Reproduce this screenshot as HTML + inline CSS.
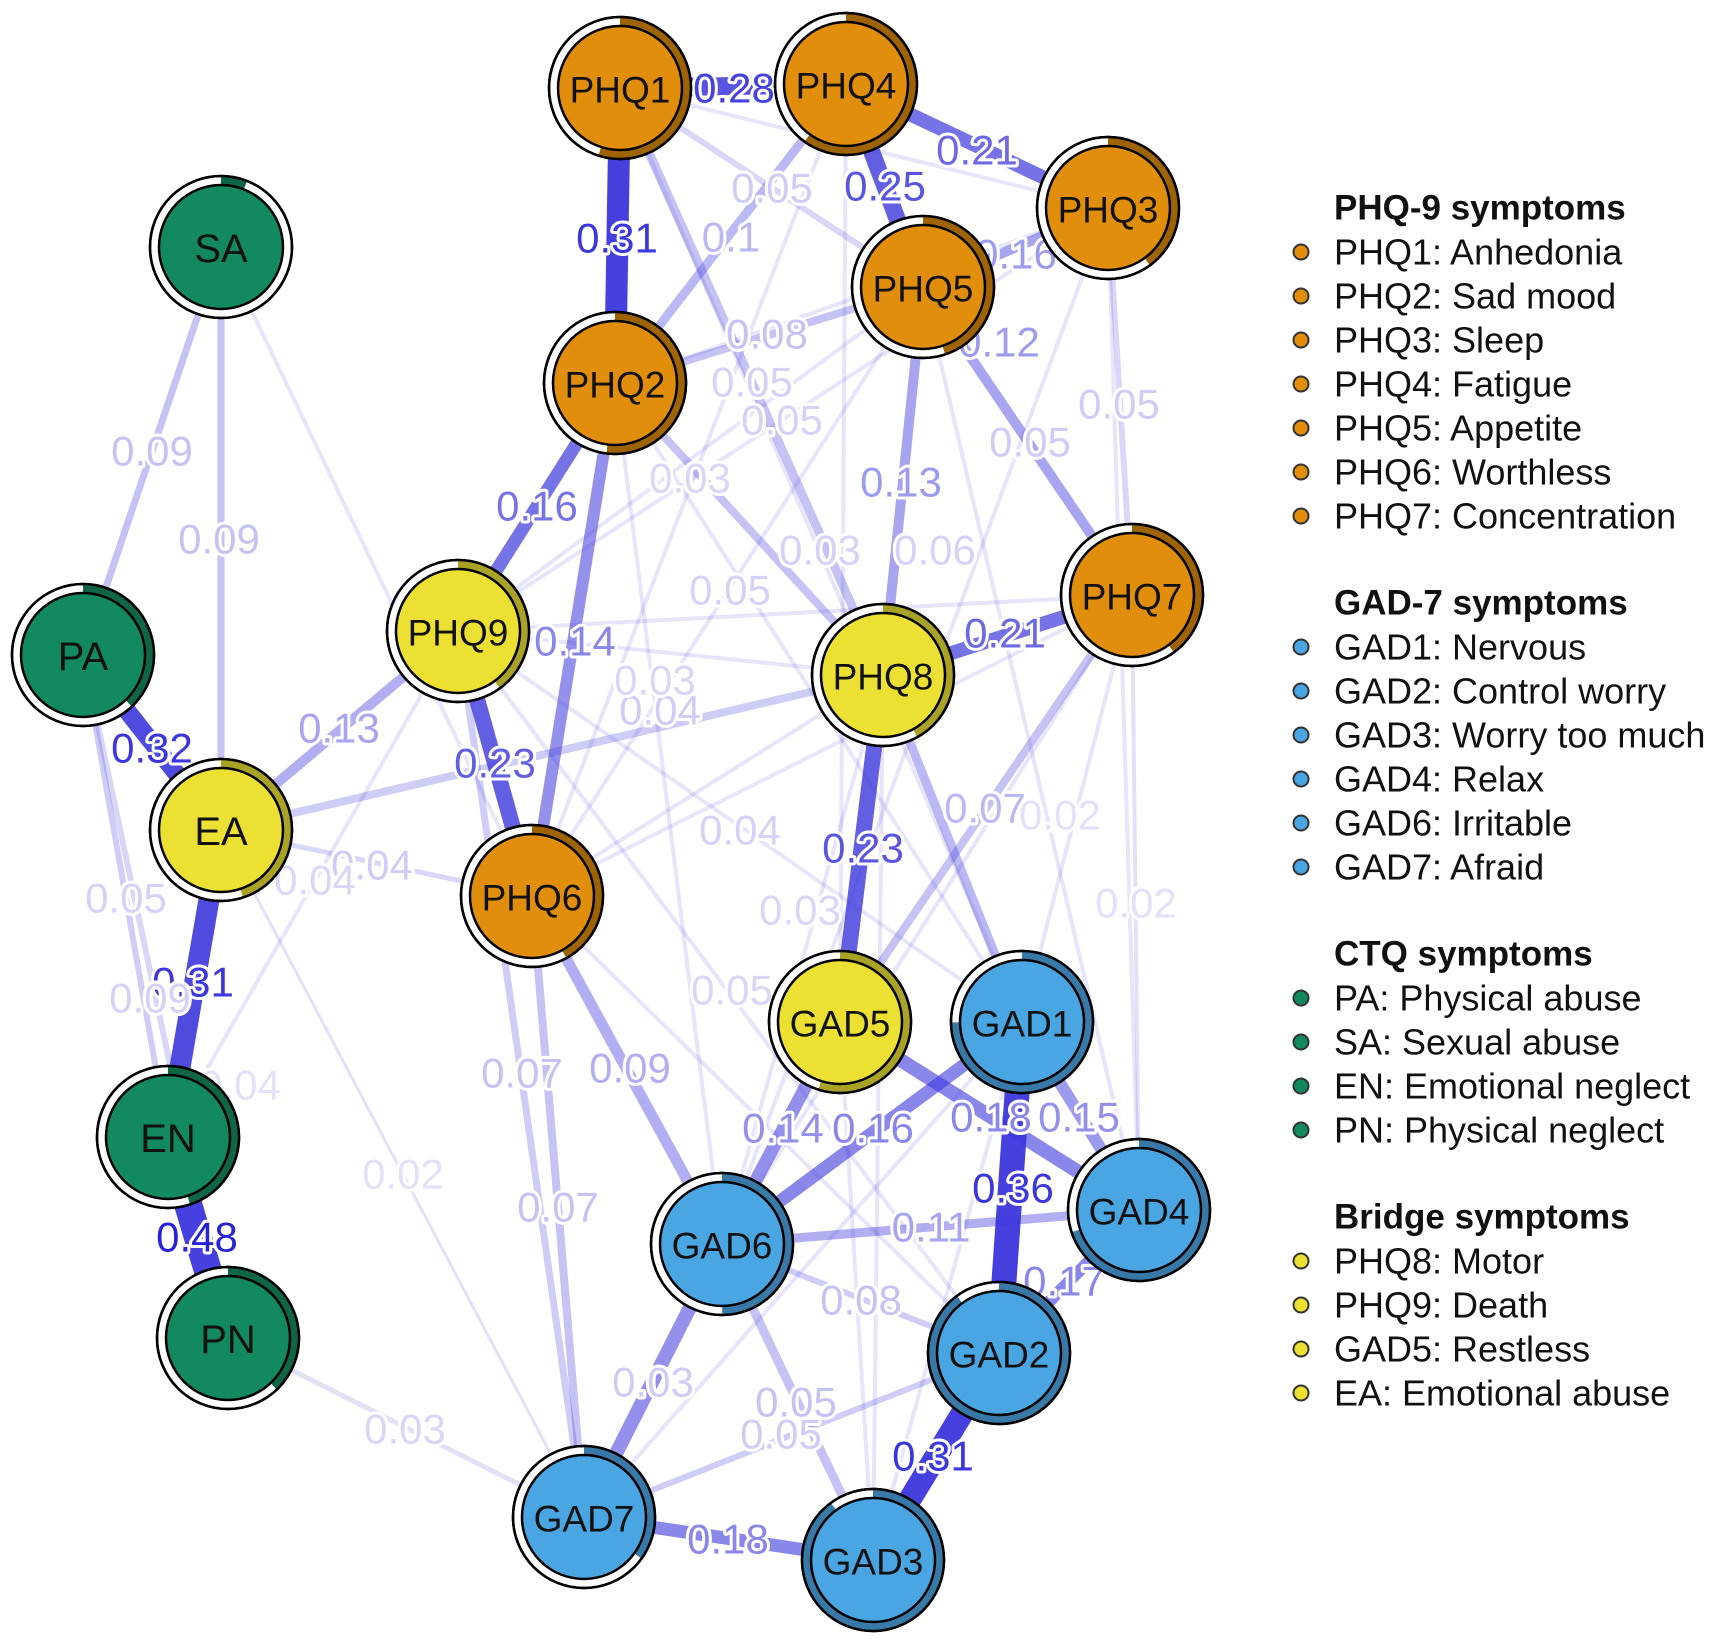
<!DOCTYPE html>
<html><head><meta charset="utf-8"><style>
html,body{margin:0;padding:0;background:#fff}
svg{display:block}
.lab{font-family:"Liberation Sans",sans-serif;font-size:42px;text-anchor:middle;dominant-baseline:central;stroke:#fff;stroke-width:6px;paint-order:stroke;stroke-linejoin:round}
.nl{font-family:"Liberation Sans",sans-serif;font-size:37px;text-anchor:middle;dominant-baseline:central;fill:#111}
.lg{font-family:"Liberation Sans",sans-serif;font-size:36px;fill:#111;dominant-baseline:central}
.lt{font-weight:bold;font-size:35px}
</style></head><body>
<svg width="1717" height="1644" viewBox="0 0 1717 1644" xmlns="http://www.w3.org/2000/svg">
<g stroke="rgb(60,55,220)" stroke-linecap="butt" fill="none">
<g stroke-opacity="0.13" stroke-width="4">
<line x1="620" y1="88" x2="1022" y2="1022"/>
<line x1="846" y1="84" x2="840" y2="1022"/>
<line x1="846" y1="84" x2="532" y2="896"/>
<line x1="1108" y1="208" x2="722" y2="1244"/>
<line x1="1108" y1="208" x2="458" y2="631"/>
<line x1="923" y1="287" x2="458" y2="631"/>
<line x1="923" y1="287" x2="532" y2="896"/>
<line x1="923" y1="287" x2="1139" y2="1210"/>
<line x1="615" y1="383" x2="1022" y2="1022"/>
<line x1="615" y1="383" x2="722" y2="1244"/>
<line x1="458" y1="631" x2="1022" y2="1022"/>
<line x1="458" y1="631" x2="883" y2="675"/>
<line x1="458" y1="631" x2="999" y2="1353"/>
<line x1="532" y1="896" x2="1132" y2="595"/>
<line x1="532" y1="896" x2="883" y2="675"/>
<line x1="532" y1="896" x2="999" y2="1353"/>
<line x1="1132" y1="595" x2="1022" y2="1022"/>
<line x1="1132" y1="595" x2="722" y2="1244"/>
<line x1="883" y1="675" x2="722" y2="1244"/>
<line x1="883" y1="675" x2="873" y2="1560"/>
<line x1="1108" y1="208" x2="1139" y2="1210"/>
<line x1="168" y1="1137" x2="458" y2="631"/>
<line x1="221" y1="247" x2="532" y2="896"/>
<line x1="584" y1="1517" x2="1022" y2="1022"/>
<line x1="873" y1="1560" x2="1022" y2="1022"/>
<line x1="873" y1="1560" x2="840" y2="1022"/>
<line x1="615" y1="383" x2="1108" y2="208"/>
<line x1="620" y1="88" x2="1108" y2="208"/>
<line x1="458" y1="631" x2="1132" y2="595"/>
</g>
<line x1="620" y1="88" x2="615" y2="383" stroke-width="22" stroke-opacity="0.95"/>
<line x1="620" y1="88" x2="846" y2="84" stroke-width="18" stroke-opacity="0.85"/>
<line x1="846" y1="84" x2="1108" y2="208" stroke-width="14" stroke-opacity="0.7"/>
<line x1="846" y1="84" x2="923" y2="287" stroke-width="17" stroke-opacity="0.8"/>
<line x1="923" y1="287" x2="1108" y2="208" stroke-width="10" stroke-opacity="0.45"/>
<line x1="923" y1="287" x2="1132" y2="595" stroke-width="10" stroke-opacity="0.45"/>
<line x1="1108" y1="208" x2="1132" y2="595" stroke-width="6" stroke-opacity="0.2"/>
<line x1="923" y1="287" x2="883" y2="675" stroke-width="10" stroke-opacity="0.45"/>
<line x1="620" y1="88" x2="883" y2="675" stroke-width="9" stroke-opacity="0.3"/>
<line x1="615" y1="383" x2="846" y2="84" stroke-width="9" stroke-opacity="0.35"/>
<line x1="620" y1="88" x2="923" y2="287" stroke-width="6" stroke-opacity="0.2"/>
<line x1="615" y1="383" x2="923" y2="287" stroke-width="8" stroke-opacity="0.3"/>
<line x1="615" y1="383" x2="458" y2="631" stroke-width="13" stroke-opacity="0.7"/>
<line x1="615" y1="383" x2="532" y2="896" stroke-width="12" stroke-opacity="0.55"/>
<line x1="615" y1="383" x2="883" y2="675" stroke-width="8" stroke-opacity="0.3"/>
<line x1="458" y1="631" x2="532" y2="896" stroke-width="16" stroke-opacity="0.8"/>
<line x1="458" y1="631" x2="221" y2="830" stroke-width="10" stroke-opacity="0.4"/>
<line x1="83" y1="655" x2="221" y2="830" stroke-width="18" stroke-opacity="0.9"/>
<line x1="221" y1="830" x2="168" y2="1137" stroke-width="21" stroke-opacity="0.9"/>
<line x1="168" y1="1137" x2="228" y2="1338" stroke-width="28" stroke-opacity="0.95"/>
<line x1="221" y1="247" x2="83" y2="655" stroke-width="7" stroke-opacity="0.3"/>
<line x1="221" y1="247" x2="221" y2="830" stroke-width="7" stroke-opacity="0.3"/>
<line x1="221" y1="830" x2="883" y2="675" stroke-width="8" stroke-opacity="0.25"/>
<line x1="221" y1="830" x2="532" y2="896" stroke-width="5" stroke-opacity="0.2"/>
<line x1="83" y1="655" x2="168" y2="1137" stroke-width="6" stroke-opacity="0.25"/>
<line x1="83" y1="655" x2="228" y2="1338" stroke-width="6" stroke-opacity="0.2"/>
<line x1="883" y1="675" x2="840" y2="1022" stroke-width="16" stroke-opacity="0.8"/>
<line x1="883" y1="675" x2="1132" y2="595" stroke-width="14" stroke-opacity="0.7"/>
<line x1="883" y1="675" x2="1022" y2="1022" stroke-width="9" stroke-opacity="0.35"/>
<line x1="1132" y1="595" x2="840" y2="1022" stroke-width="8" stroke-opacity="0.3"/>
<line x1="1022" y1="1022" x2="999" y2="1353" stroke-width="25" stroke-opacity="0.95"/>
<line x1="999" y1="1353" x2="873" y2="1560" stroke-width="23" stroke-opacity="0.95"/>
<line x1="584" y1="1517" x2="873" y2="1560" stroke-width="13" stroke-opacity="0.6"/>
<line x1="840" y1="1022" x2="1139" y2="1210" stroke-width="14" stroke-opacity="0.6"/>
<line x1="1022" y1="1022" x2="1139" y2="1210" stroke-width="12" stroke-opacity="0.5"/>
<line x1="722" y1="1244" x2="840" y2="1022" stroke-width="13" stroke-opacity="0.55"/>
<line x1="722" y1="1244" x2="1022" y2="1022" stroke-width="13" stroke-opacity="0.6"/>
<line x1="722" y1="1244" x2="1139" y2="1210" stroke-width="9" stroke-opacity="0.4"/>
<line x1="999" y1="1353" x2="1139" y2="1210" stroke-width="12" stroke-opacity="0.6"/>
<line x1="722" y1="1244" x2="584" y2="1517" stroke-width="14" stroke-opacity="0.55"/>
<line x1="532" y1="896" x2="722" y2="1244" stroke-width="11" stroke-opacity="0.4"/>
<line x1="532" y1="896" x2="584" y2="1517" stroke-width="8" stroke-opacity="0.3"/>
<line x1="458" y1="631" x2="584" y2="1517" stroke-width="7" stroke-opacity="0.25"/>
<line x1="722" y1="1244" x2="873" y2="1560" stroke-width="9" stroke-opacity="0.3"/>
<line x1="584" y1="1517" x2="999" y2="1353" stroke-width="6" stroke-opacity="0.25"/>
<line x1="722" y1="1244" x2="999" y2="1353" stroke-width="6" stroke-opacity="0.25"/>
<line x1="228" y1="1338" x2="584" y2="1517" stroke-width="5" stroke-opacity="0.15"/>
<line x1="221" y1="830" x2="584" y2="1517" stroke-width="3" stroke-opacity="0.15"/>
<line x1="1132" y1="595" x2="1139" y2="1210" stroke-width="4" stroke-opacity="0.15"/>
</g>
<g class="lab">
<text x="617" y="238" fill="rgb(60,55,220)">0.31</text>
<text x="734" y="88" fill="rgb(70,65,225)">0.28</text>
<text x="977" y="150" fill="rgba(60,55,220,0.75)">0.21</text>
<text x="885" y="186" fill="rgba(60,55,220,0.85)">0.25</text>
<text x="1016" y="254" fill="rgba(60,55,220,0.5)">0.16</text>
<text x="999" y="342" fill="rgba(60,55,220,0.5)">0.12</text>
<text x="1119" y="404" fill="rgba(60,55,220,0.25)">0.05</text>
<text x="1030" y="442" fill="rgba(60,55,220,0.25)">0.05</text>
<text x="901" y="482" fill="rgba(60,55,220,0.5)">0.13</text>
<text x="731" y="237" fill="rgba(60,55,220,0.35)">0.1</text>
<text x="772" y="188" fill="rgba(60,55,220,0.25)">0.05</text>
<text x="767" y="334" fill="rgba(60,55,220,0.3)">0.08</text>
<text x="752" y="382" fill="rgba(60,55,220,0.22)">0.05</text>
<text x="782" y="420" fill="rgba(60,55,220,0.22)">0.05</text>
<text x="690" y="478" fill="rgba(60,55,220,0.2)">0.03</text>
<text x="820" y="550" fill="rgba(60,55,220,0.22)">0.03</text>
<text x="935" y="550" fill="rgba(60,55,220,0.22)">0.06</text>
<text x="730" y="590" fill="rgba(60,55,220,0.22)">0.05</text>
<text x="537" y="506" fill="rgba(60,55,220,0.7)">0.16</text>
<text x="575" y="641" fill="rgba(60,55,220,0.6)">0.14</text>
<text x="495" y="763" fill="rgba(60,55,220,0.8)">0.23</text>
<text x="339" y="728" fill="rgba(60,55,220,0.45)">0.13</text>
<text x="152" y="748" fill="rgb(60,55,220)">0.32</text>
<text x="193" y="982" fill="rgb(60,55,220)">0.31</text>
<text x="197" y="1237" fill="rgb(40,35,215)">0.48</text>
<text x="152" y="451" fill="rgba(60,55,220,0.3)">0.09</text>
<text x="219" y="539" fill="rgba(60,55,220,0.3)">0.09</text>
<text x="372" y="865" fill="rgba(60,55,220,0.25)">0.04</text>
<text x="315" y="880" fill="rgba(60,55,220,0.2)">0.04</text>
<text x="126" y="898" fill="rgba(60,55,220,0.22)">0.05</text>
<text x="150" y="998" fill="rgba(60,55,220,0.22)">0.09</text>
<text x="240" y="1085" fill="rgba(60,55,220,0.15)">0.04</text>
<text x="660" y="710" fill="rgba(60,55,220,0.25)">0.04</text>
<text x="740" y="830" fill="rgba(60,55,220,0.22)">0.04</text>
<text x="655" y="680" fill="rgba(60,55,220,0.2)">0.03</text>
<text x="863" y="848" fill="rgba(60,55,220,0.85)">0.23</text>
<text x="1005" y="633" fill="rgba(60,55,220,0.75)">0.21</text>
<text x="985" y="808" fill="rgba(60,55,220,0.35)">0.07</text>
<text x="1060" y="815" fill="rgba(60,55,220,0.15)">0.02</text>
<text x="1136" y="903" fill="rgba(60,55,220,0.15)">0.02</text>
<text x="800" y="910" fill="rgba(60,55,220,0.2)">0.03</text>
<text x="732" y="990" fill="rgba(60,55,220,0.2)">0.05</text>
<text x="1013" y="1188" fill="rgb(60,55,220)">0.36</text>
<text x="933" y="1456" fill="rgb(60,55,220)">0.31</text>
<text x="728" y="1539" fill="rgba(60,55,220,0.6)">0.18</text>
<text x="991" y="1117" fill="rgba(60,55,220,0.6)">0.18</text>
<text x="1079" y="1117" fill="rgba(60,55,220,0.55)">0.15</text>
<text x="783" y="1128" fill="rgba(60,55,220,0.55)">0.14</text>
<text x="873" y="1128" fill="rgba(60,55,220,0.6)">0.16</text>
<text x="931" y="1227" fill="rgba(60,55,220,0.45)">0.11</text>
<text x="1064" y="1281" fill="rgba(60,55,220,0.6)">0.17</text>
<text x="653" y="1382" fill="rgba(60,55,220,0.25)">0.03</text>
<text x="630" y="1068" fill="rgba(60,55,220,0.4)">0.09</text>
<text x="522" y="1073" fill="rgba(60,55,220,0.3)">0.07</text>
<text x="558" y="1207" fill="rgba(60,55,220,0.3)">0.07</text>
<text x="796" y="1402" fill="rgba(60,55,220,0.3)">0.05</text>
<text x="781" y="1434" fill="rgba(60,55,220,0.25)">0.05</text>
<text x="861" y="1300" fill="rgba(60,55,220,0.3)">0.08</text>
<text x="405" y="1429" fill="rgba(60,55,220,0.2)">0.03</text>
<text x="403" y="1174" fill="rgba(60,55,220,0.15)">0.02</text>
</g>
<g stroke="#000" stroke-width="2.5">
<g transform="translate(620,88)"><circle r="71" fill="#fff"/><circle r="66.5" fill="none" stroke="#9E6304" stroke-width="9" pathLength="100" stroke-dasharray="55 100" transform="rotate(-90)"/><circle r="71" fill="none"/><circle r="62" fill="#E08E0B"/></g>
<g transform="translate(846,84)"><circle r="71" fill="#fff"/><circle r="66.5" fill="none" stroke="#9E6304" stroke-width="9" pathLength="100" stroke-dasharray="60 100" transform="rotate(-90)"/><circle r="71" fill="none"/><circle r="62" fill="#E08E0B"/></g>
<g transform="translate(1108,208)"><circle r="71" fill="#fff"/><circle r="66.5" fill="none" stroke="#9E6304" stroke-width="9" pathLength="100" stroke-dasharray="40 100" transform="rotate(-90)"/><circle r="71" fill="none"/><circle r="62" fill="#E08E0B"/></g>
<g transform="translate(923,287)"><circle r="71" fill="#fff"/><circle r="66.5" fill="none" stroke="#9E6304" stroke-width="9" pathLength="100" stroke-dasharray="45 100" transform="rotate(-90)"/><circle r="71" fill="none"/><circle r="62" fill="#E08E0B"/></g>
<g transform="translate(615,383)"><circle r="71" fill="#fff"/><circle r="66.5" fill="none" stroke="#9E6304" stroke-width="9" pathLength="100" stroke-dasharray="52 100" transform="rotate(-90)"/><circle r="71" fill="none"/><circle r="62" fill="#E08E0B"/></g>
<g transform="translate(1132,595)"><circle r="71" fill="#fff"/><circle r="66.5" fill="none" stroke="#9E6304" stroke-width="9" pathLength="100" stroke-dasharray="40 100" transform="rotate(-90)"/><circle r="71" fill="none"/><circle r="62" fill="#E08E0B"/></g>
<g transform="translate(532,896)"><circle r="71" fill="#fff"/><circle r="66.5" fill="none" stroke="#9E6304" stroke-width="9" pathLength="100" stroke-dasharray="42 100" transform="rotate(-90)"/><circle r="71" fill="none"/><circle r="62" fill="#E08E0B"/></g>
<g transform="translate(221,247)"><circle r="71" fill="#fff"/><circle r="66.5" fill="none" stroke="#0E6644" stroke-width="9" pathLength="100" stroke-dasharray="6 100" transform="rotate(-90)"/><circle r="71" fill="none"/><circle r="62" fill="#138A5E"/></g>
<g transform="translate(83,655)"><circle r="71" fill="#fff"/><circle r="66.5" fill="none" stroke="#0E6644" stroke-width="9" pathLength="100" stroke-dasharray="38 100" transform="rotate(-90)"/><circle r="71" fill="none"/><circle r="62" fill="#138A5E"/></g>
<g transform="translate(168,1137)"><circle r="71" fill="#fff"/><circle r="66.5" fill="none" stroke="#0E6644" stroke-width="9" pathLength="100" stroke-dasharray="45 100" transform="rotate(-90)"/><circle r="71" fill="none"/><circle r="62" fill="#138A5E"/></g>
<g transform="translate(228,1338)"><circle r="71" fill="#fff"/><circle r="66.5" fill="none" stroke="#0E6644" stroke-width="9" pathLength="100" stroke-dasharray="38 100" transform="rotate(-90)"/><circle r="71" fill="none"/><circle r="62" fill="#138A5E"/></g>
<g transform="translate(458,631)"><circle r="71" fill="#fff"/><circle r="66.5" fill="none" stroke="#A9A227" stroke-width="9" pathLength="100" stroke-dasharray="40 100" transform="rotate(-90)"/><circle r="71" fill="none"/><circle r="62" fill="#ECE133"/></g>
<g transform="translate(883,675)"><circle r="71" fill="#fff"/><circle r="66.5" fill="none" stroke="#A9A227" stroke-width="9" pathLength="100" stroke-dasharray="42 100" transform="rotate(-90)"/><circle r="71" fill="none"/><circle r="62" fill="#ECE133"/></g>
<g transform="translate(221,830)"><circle r="71" fill="#fff"/><circle r="66.5" fill="none" stroke="#A9A227" stroke-width="9" pathLength="100" stroke-dasharray="45 100" transform="rotate(-90)"/><circle r="71" fill="none"/><circle r="62" fill="#ECE133"/></g>
<g transform="translate(840,1022)"><circle r="71" fill="#fff"/><circle r="66.5" fill="none" stroke="#A9A227" stroke-width="9" pathLength="100" stroke-dasharray="55 100" transform="rotate(-90)"/><circle r="71" fill="none"/><circle r="62" fill="#ECE133"/></g>
<g transform="translate(1022,1022)"><circle r="71" fill="#fff"/><circle r="66.5" fill="none" stroke="#3979A8" stroke-width="9" pathLength="100" stroke-dasharray="75 100" transform="rotate(-90)"/><circle r="71" fill="none"/><circle r="62" fill="#4AA6E2"/></g>
<g transform="translate(1139,1210)"><circle r="71" fill="#fff"/><circle r="66.5" fill="none" stroke="#3979A8" stroke-width="9" pathLength="100" stroke-dasharray="70 100" transform="rotate(-90)"/><circle r="71" fill="none"/><circle r="62" fill="#4AA6E2"/></g>
<g transform="translate(722,1244)"><circle r="71" fill="#fff"/><circle r="66.5" fill="none" stroke="#3979A8" stroke-width="9" pathLength="100" stroke-dasharray="50 100" transform="rotate(-90)"/><circle r="71" fill="none"/><circle r="62" fill="#4AA6E2"/></g>
<g transform="translate(999,1353)"><circle r="71" fill="#fff"/><circle r="66.5" fill="none" stroke="#3979A8" stroke-width="9" pathLength="100" stroke-dasharray="90 100" transform="rotate(-90)"/><circle r="71" fill="none"/><circle r="62" fill="#4AA6E2"/></g>
<g transform="translate(584,1517)"><circle r="71" fill="#fff"/><circle r="66.5" fill="none" stroke="#3979A8" stroke-width="9" pathLength="100" stroke-dasharray="35 100" transform="rotate(-90)"/><circle r="71" fill="none"/><circle r="62" fill="#4AA6E2"/></g>
<g transform="translate(873,1560)"><circle r="71" fill="#fff"/><circle r="66.5" fill="none" stroke="#3979A8" stroke-width="9" pathLength="100" stroke-dasharray="90 100" transform="rotate(-90)"/><circle r="71" fill="none"/><circle r="62" fill="#4AA6E2"/></g>
</g>
<g class="nl">
<text x="620" y="90">PHQ1</text><text x="846" y="86">PHQ4</text><text x="1108" y="210">PHQ3</text>
<text x="923" y="289">PHQ5</text><text x="615" y="385">PHQ2</text><text x="1132" y="597">PHQ7</text>
<text x="532" y="898">PHQ6</text><text x="458" y="633">PHQ9</text><text x="883" y="677">PHQ8</text>
<text x="840" y="1024">GAD5</text><text x="1022" y="1024">GAD1</text><text x="1139" y="1212">GAD4</text>
<text x="722" y="1246">GAD6</text><text x="999" y="1355">GAD2</text><text x="584" y="1519">GAD7</text>
<text x="873" y="1562">GAD3</text>
<text x="221" y="249" font-size="40">SA</text><text x="83" y="657" font-size="40">PA</text>
<text x="221" y="832" font-size="40">EA</text><text x="168" y="1139" font-size="40">EN</text>
<text x="228" y="1340" font-size="40">PN</text>
</g>
<g class="lg">
<text class="lt" x="1334" y="208">PHQ-9 symptoms</text>
<text x="1334" y="252">PHQ1: Anhedonia</text>
<text x="1334" y="296">PHQ2: Sad mood</text>
<text x="1334" y="340">PHQ3: Sleep</text>
<text x="1334" y="384">PHQ4: Fatigue</text>
<text x="1334" y="428">PHQ5: Appetite</text>
<text x="1334" y="472">PHQ6: Worthless</text>
<text x="1334" y="516">PHQ7: Concentration</text>
<text class="lt" x="1334" y="603">GAD-7 symptoms</text>
<text x="1334" y="647">GAD1: Nervous</text>
<text x="1334" y="691">GAD2: Control worry</text>
<text x="1334" y="735">GAD3: Worry too much</text>
<text x="1334" y="779">GAD4: Relax</text>
<text x="1334" y="823">GAD6: Irritable</text>
<text x="1334" y="867">GAD7: Afraid</text>
<text class="lt" x="1334" y="954">CTQ symptoms</text>
<text x="1334" y="998">PA: Physical abuse</text>
<text x="1334" y="1042">SA: Sexual abuse</text>
<text x="1334" y="1086">EN: Emotional neglect</text>
<text x="1334" y="1130">PN: Physical neglect</text>
<text class="lt" x="1334" y="1217">Bridge symptoms</text>
<text x="1334" y="1261">PHQ8: Motor</text>
<text x="1334" y="1305">PHQ9: Death</text>
<text x="1334" y="1349">GAD5: Restless</text>
<text x="1334" y="1393">EA: Emotional abuse</text>
</g>
<g stroke="#333" stroke-width="2">
<g fill="#E08E0B"><circle cx="1301" cy="252" r="7.5"/><circle cx="1301" cy="296" r="7.5"/><circle cx="1301" cy="340" r="7.5"/><circle cx="1301" cy="384" r="7.5"/><circle cx="1301" cy="428" r="7.5"/><circle cx="1301" cy="472" r="7.5"/><circle cx="1301" cy="516" r="7.5"/></g>
<g fill="#4AA6E2"><circle cx="1301" cy="647" r="7.5"/><circle cx="1301" cy="691" r="7.5"/><circle cx="1301" cy="735" r="7.5"/><circle cx="1301" cy="779" r="7.5"/><circle cx="1301" cy="823" r="7.5"/><circle cx="1301" cy="867" r="7.5"/></g>
<g fill="#138A5E"><circle cx="1301" cy="998" r="7.5"/><circle cx="1301" cy="1042" r="7.5"/><circle cx="1301" cy="1086" r="7.5"/><circle cx="1301" cy="1130" r="7.5"/></g>
<g fill="#ECE133"><circle cx="1301" cy="1261" r="7.5"/><circle cx="1301" cy="1305" r="7.5"/><circle cx="1301" cy="1349" r="7.5"/><circle cx="1301" cy="1393" r="7.5"/></g>
</g>
</svg>
</body></html>
